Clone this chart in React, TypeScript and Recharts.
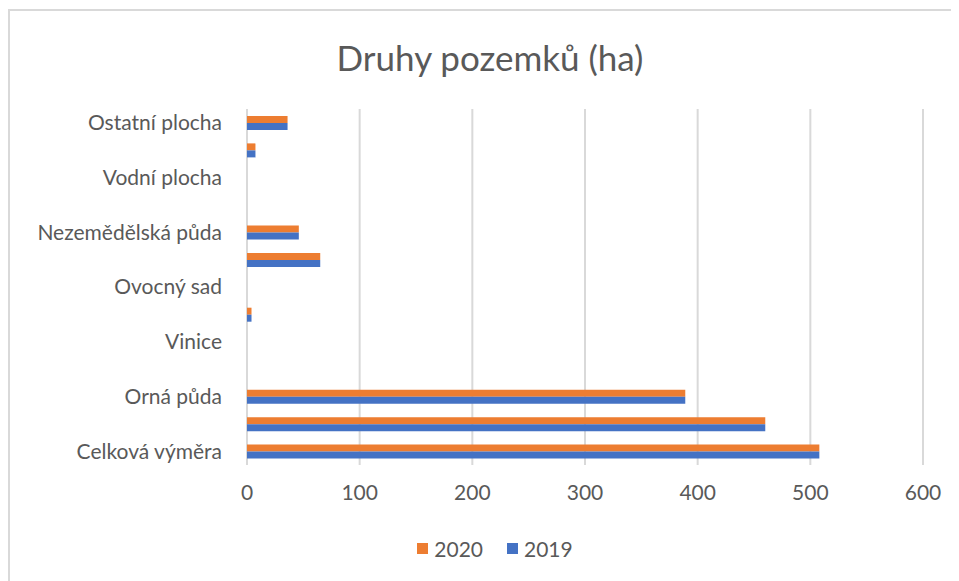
import React from "react";
import { BarChart, Bar, XAxis, YAxis, CartesianGrid, Legend } from "recharts";

const categories = [
  "Celková výměra",
  "Zemědělská půda",
  "Orná půda",
  "Chmelnice",
  "Vinice",
  "Zahrada",
  "Ovocný sad",
  "Trvalý travní porost",
  "Nezemědělská půda",
  "Lesní pozemek",
  "Vodní plocha",
  "Zastavěná plocha",
  "Ostatní plocha",
];
const values2020 = [508, 460, 389, 0, 0, 4, 0, 65, 46, 0, 0, 7.5, 36];
const values2019 = [508, 460, 389, 0, 0, 4, 0, 65, 46, 0, 0, 7.5, 36];
const xTicks = [0, 100, 200, 300, 400, 500, 600];
const legendOrder = ["2020", "2019"];

const data = categories.map((name, i) => ({
  name,
  y2020: values2020[i],
  y2019: values2019[i],
}));

const FONT = "Lato, 'Open Sans', sans-serif";
const TEXT = "#595959";

const LegendContent = (props: any) => {
  const payload = [...(props.payload || [])].sort(
    (a: any, b: any) => legendOrder.indexOf(String(a.value)) - legendOrder.indexOf(String(b.value))
  );
  return (
    <div
      style={{
        display: "flex",
        justifyContent: "center",
        alignItems: "center",
        height: 30,
        paddingLeft: 23,
        fontFamily: FONT,
        fontSize: 21,
        color: TEXT,
      }}
    >
      {payload.map((p: any, i: number) => (
        <div key={i} style={{ display: "flex", alignItems: "center", marginRight: i === payload.length - 1 ? 0 : 24 }}>
          <span style={{ display: "inline-block", width: 11, height: 11, background: p.color, marginRight: 6 }} />
          <span>{p.value}</span>
        </div>
      ))}
    </div>
  );
};

export default function App() {
  return (
    <div style={{ position: "relative", width: 951, height: 573 }}>
      <div
        style={{
          position: "absolute",
          left: 0,
          top: 1,
          width: 951,
          height: 572,
          borderTop: "2px solid #d9d9d9",
          borderLeft: "2px solid #d9d9d9",
          boxSizing: "border-box",
        }}
      />
      <div
        style={{
          position: "absolute",
          left: 0,
          top: 29,
          width: 951,
          paddingLeft: 13,
          boxSizing: "border-box",
          textAlign: "center",
          fontFamily: FONT,
          fontSize: 35,
          lineHeight: "40px",
          color: TEXT,
        }}
      >
        Druhy pozemků (ha)
      </div>
      <div style={{ position: "absolute", left: 0, top: 0 }}>
        <BarChart
          width={951}
          height={573}
          data={data}
          layout="vertical"
          margin={{ top: 101, right: 36, bottom: 46, left: 0 }}
          barGap={0}
          barSize={7}
        >
          <CartesianGrid horizontal={false} stroke="#d9d9d9" strokeWidth={2} />
          <XAxis
            type="number"
            domain={[0, 600]}
            ticks={xTicks}
            axisLine={false}
            tickLine={false}
            tickSize={0}
            tickMargin={20}
            height={40}
            tick={{ fill: TEXT, fontSize: 21, fontFamily: FONT }}
          />
          <YAxis
            type="category"
            dataKey="name"
            reversed
            interval={1}
            width={239}
            axisLine={false}
            tickLine={false}
            tickSize={0}
            tickMargin={25}
            tick={{ fill: TEXT, fontSize: 21, fontFamily: FONT }}
          />
          <Legend
            verticalAlign="bottom"
            height={30}
            content={<LegendContent />}
            wrapperStyle={{ top: 525, bottom: "auto", left: 0, width: 951 }}
          />
          <Bar dataKey="y2020" name="2020" fill="#ED7D31" isAnimationActive={false} />
          <Bar dataKey="y2019" name="2019" fill="#4472C4" isAnimationActive={false} />
        </BarChart>
      </div>
    </div>
  );
}
